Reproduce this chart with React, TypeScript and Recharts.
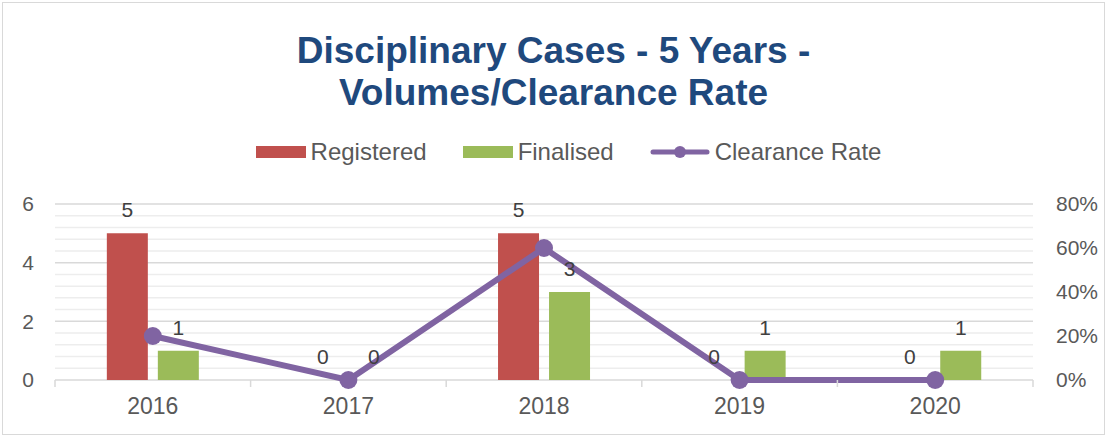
import { Bar, CartesianGrid, ComposedChart, LabelList, Line, XAxis, YAxis } from "recharts";

const years = ["2016", "2017", "2018", "2019", "2020"];
const registered = [5, 0, 5, 0, 0];
const finalised = [1, 0, 3, 1, 1];
const clearanceRate = [0.2, 0, 0.6, 0, 0];

// labelled ticks on the count axis, plus the finer gridline steps between them
const countTicks = [0, 2, 4, 6];
const gridTicks = [0, 0.4, 0.8, 1.2, 1.6, 2, 2.4, 2.8, 3.2, 3.6, 4, 4.4, 4.8, 5.2, 5.6, 6];
const rateTicks = [0, 0.2, 0.4, 0.6, 0.8];

const COLORS = {
  registered: "#C0504D",
  finalised: "#9BBB59",
  rate: "#8064A2",
  title: "#1F497D",
  text: "#595959",
  label: "#404040",
  grid: "#D9D9D9",
  minor: "#EDEDED",
};

const FONT = '"Liberation Sans", Arial, sans-serif';

const data = years.map((year, i) => ({
  year,
  registered: registered[i],
  finalised: finalised[i],
  rate: clearanceRate[i],
}));

const legendItems = [
  { name: "Registered", color: COLORS.registered, kind: "bar" },
  { name: "Finalised", color: COLORS.finalised, kind: "bar" },
  { name: "Clearance Rate", color: COLORS.rate, kind: "line" },
];

function LegendRow() {
  return (
    <div
      style={{
        position: "absolute",
        top: 137,
        left: 0,
        width: 1107,
        display: "flex",
        justifyContent: "center",
        gap: 36,
        fontFamily: FONT,
        fontSize: 24,
        lineHeight: "30px",
        color: COLORS.text,
        paddingLeft: 30,
        boxSizing: "border-box",
      }}
    >
      {legendItems.map((item) => (
        <div key={item.name} style={{ display: "flex", alignItems: "center", gap: 5 }}>
          {item.kind === "bar" ? (
            <div style={{ width: 50, height: 12, background: item.color }} />
          ) : (
            <svg width={60} height={14}>
              <line x1={3} y1={7} x2={57} y2={7} stroke={item.color} strokeWidth={5} strokeLinecap="round" />
              <circle cx={30} cy={7} r={6} fill={item.color} />
            </svg>
          )}
          <span>{item.name}</span>
        </div>
      ))}
    </div>
  );
}

// gridline renderer: darker line on labelled values (this also stands in for the
// x axis line at 0), faint line on the in-between steps
function GridLine(props: any) {
  const value = gridTicks[props.index];
  const major = countTicks.includes(value);
  return (
    <line
      x1={props.x1}
      y1={props.y1}
      x2={props.x2}
      y2={props.y2}
      stroke={major ? COLORS.grid : COLORS.minor}
      strokeWidth={1.5}
    />
  );
}

// year label plus the little separator ticks Excel draws between categories
function YearTick(props: any) {
  const { x, y, payload, index, visibleTicksCount } = props;
  const half = payload?.offset ?? 0;
  const axisY = y - 18;
  return (
    <g>
      {half > 0 && <line x1={x - half} x2={x - half} y1={axisY} y2={axisY + 7} stroke={COLORS.grid} strokeWidth={1.5} />}
      {half > 0 && index === visibleTicksCount - 1 && (
        <line x1={x + half} x2={x + half} y1={axisY} y2={axisY + 7} stroke={COLORS.grid} strokeWidth={1.5} />
      )}
      <text x={x} y={y} dy="0.71em" textAnchor="middle" fill={COLORS.text} fontSize={23} fontFamily={FONT}>
        {payload.value}
      </text>
    </g>
  );
}

export default function App() {
  return (
    <div
      style={{
        position: "absolute",
        left: 0,
        top: 0,
        width: 1107,
        height: 437,
        background: "#fff",
        fontFamily: FONT,
      }}
    >
      <div
        style={{
          position: "absolute",
          left: 2,
          top: 2,
          width: 1101,
          height: 431,
          border: "1px solid #D9D9D9",
        }}
      />
      <div
        style={{
          position: "absolute",
          top: 30,
          left: 0,
          width: 1107,
          textAlign: "center",
          fontFamily: FONT,
          fontWeight: "bold",
          fontSize: 37,
          lineHeight: "42px",
          color: COLORS.title,
        }}
      >
        Disciplinary Cases - 5 Years -
        <br />
        Volumes/Clearance Rate
      </div>
      <LegendRow />
      <div style={{ position: "absolute", left: 0, top: 0 }}>
        <ComposedChart
          width={1107}
          height={437}
          data={data}
          margin={{ top: 204, right: 0, bottom: 0, left: 0 }}
          barCategoryGap="26.5%"
          barGap={10}
        >
          <CartesianGrid yAxisId="left" vertical={false} horizontal={(p: any) => <GridLine {...p} />} />
          <XAxis
            dataKey="year"
            height={57}
            axisLine={false}
            tickLine={false}
            tickSize={6}
            tickMargin={12}
            tick={<YearTick />}
          />
          <YAxis
            yAxisId="left"
            domain={[0, 6]}
            ticks={gridTicks}
            interval={0}
            width={55}
            axisLine={false}
            tickLine={false}
            tickSize={6}
            tickMargin={15}
            tickFormatter={(v: number) => (countTicks.includes(v) ? `${v}` : "")}
            tick={{ fill: COLORS.text, fontSize: 21, fontFamily: FONT }}
          />
          <YAxis
            yAxisId="right"
            orientation="right"
            domain={[0, 0.8]}
            ticks={rateTicks}
            width={74}
            axisLine={false}
            tickLine={false}
            tickSize={6}
            tickMargin={17}
            tickFormatter={(v: number) => `${Math.round(v * 100)}%`}
            tick={{ fill: COLORS.text, fontSize: 21, fontFamily: FONT }}
          />
          <Bar
            yAxisId="left"
            dataKey="registered"
            name="Registered"
            fill={COLORS.registered}
            minPointSize={0.01}
            isAnimationActive={false}
          >
            <LabelList dataKey="registered" position="top" offset={16} fill={COLORS.label} fontSize={21} fontFamily={FONT} />
          </Bar>
          <Bar
            yAxisId="left"
            dataKey="finalised"
            name="Finalised"
            fill={COLORS.finalised}
            minPointSize={0.01}
            isAnimationActive={false}
          >
            <LabelList dataKey="finalised" position="top" offset={16} fill={COLORS.label} fontSize={21} fontFamily={FONT} />
          </Bar>
          <Line
            yAxisId="right"
            dataKey="rate"
            name="Clearance Rate"
            stroke={COLORS.rate}
            strokeWidth={6}
            dot={{ r: 9, fill: COLORS.rate, stroke: COLORS.rate, strokeWidth: 0 }}
            activeDot={false}
            isAnimationActive={false}
          />
        </ComposedChart>
      </div>
    </div>
  );
}
